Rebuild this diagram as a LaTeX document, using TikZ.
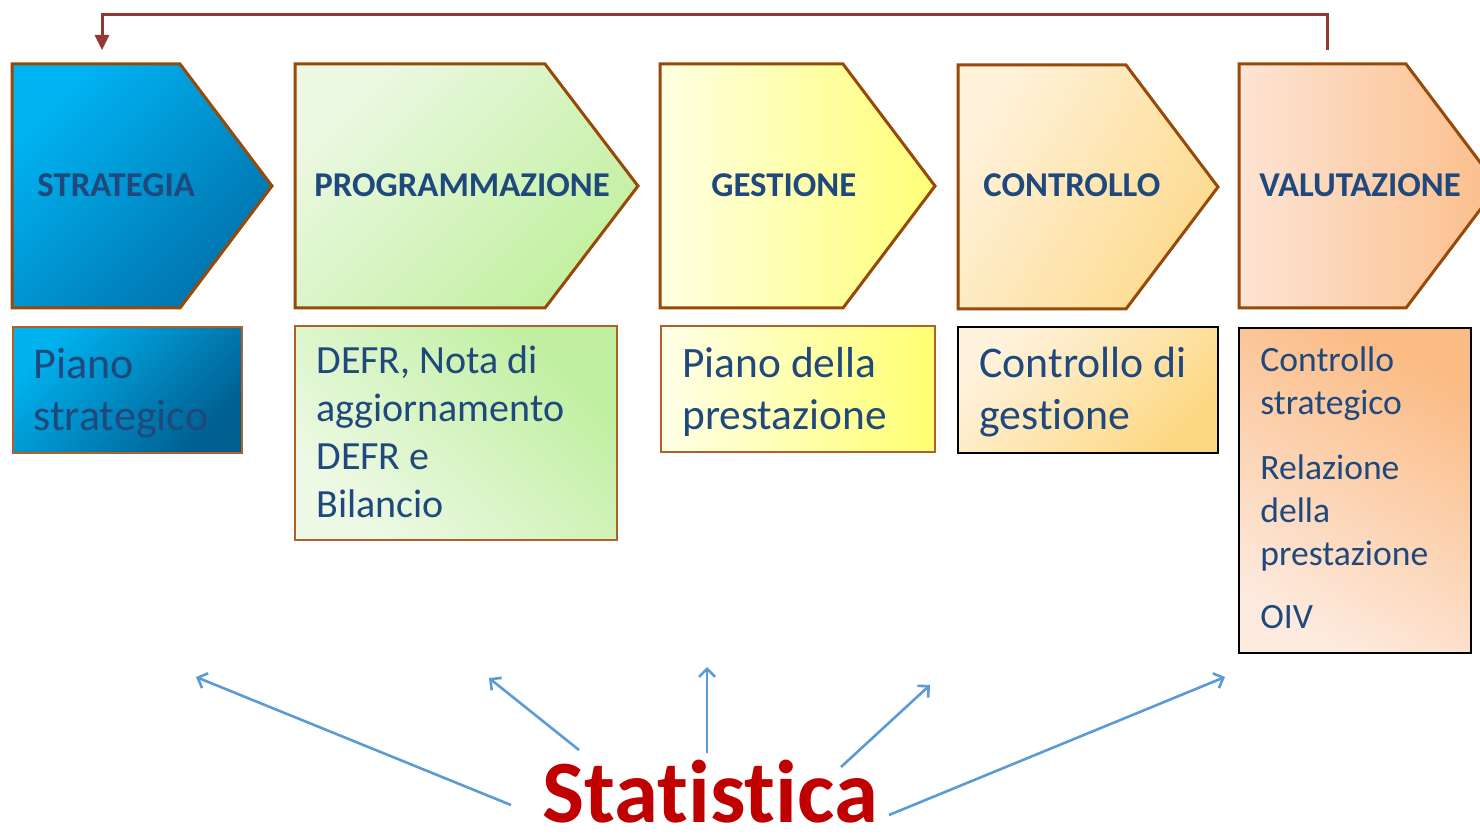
\documentclass[tikz,border=0pt]{standalone}
\usepackage{fontspec}
\setmainfont{Carlito}[Ligatures=NoCommon]
\usetikzlibrary{arrows.meta}
\definecolor{txtblue}{HTML}{1F497D}
\definecolor{chevborder}{HTML}{984807}
\definecolor{boxborder}{HTML}{B0602A}
\definecolor{fbred}{HTML}{953735}
\definecolor{statred}{HTML}{C00000}
\definecolor{arrblue}{HTML}{5B9BD5}
\definecolor{cAa}{HTML}{00B4F2}\definecolor{cAb}{HTML}{0072AC}
\definecolor{cBa}{HTML}{EBF8E2}\definecolor{cBb}{HTML}{C2F0A0}
\definecolor{cCa}{HTML}{FFFFE2}\definecolor{cCb}{HTML}{FFFF78}
\definecolor{cDa}{HTML}{FFF2DA}\definecolor{cDb}{HTML}{FDDA8E}
\definecolor{cEa}{HTML}{FDE4D4}\definecolor{cEb}{HTML}{FBBE8A}
\definecolor{bAa}{HTML}{00B2EE}\definecolor{bAb}{HTML}{005E90}
\definecolor{bBa}{HTML}{BFEF9E}\definecolor{bBb}{HTML}{EEF9E6}
\definecolor{bCa}{HTML}{FFFFE8}\definecolor{bCb}{HTML}{FFFF72}
\definecolor{bDa}{HTML}{FFF3DE}\definecolor{bDb}{HTML}{FDD882}
\definecolor{bEa}{HTML}{FBBB84}\definecolor{bEb}{HTML}{FDEADE}
\begin{document}
\begin{tikzpicture}[x=0.5pt,y=-0.5pt,
  chev/.style={draw=chevborder, line width=1.5pt, line join=miter},
  hdr/.style={anchor=base west, inner sep=0pt, text=txtblue, font=\fontsize{17.4}{20}\selectfont\bfseries},
  bodytxt/.style={anchor=base west, inner sep=0pt, text=txtblue, align=left},
  infobox/.style={line width=1pt},
  upar/.style={draw=arrblue, line width=1.3pt, -{Straight Barb[length=4pt,width=8pt]}},
  fb/.style={draw=fbred, line width=1.5pt, -{Triangle[length=7.5pt,width=7pt]}}
]
\useasboundingbox (0,0) rectangle (1480,834);

% chevrons
\path[chev, top color=cAa, bottom color=cAb, shading angle=45]
  (12,64) -- (180,64) -- (272,186) -- (180,308) -- (12,308) -- cycle;
\path[chev, top color=cBa, bottom color=cBb, shading angle=45]
  (295,64) -- (545,64) -- (638,186) -- (545,308) -- (295,308) -- cycle;
\path[chev, left color=cCa, right color=cCb]
  (660,64) -- (843,64) -- (935,186) -- (843,308) -- (660,308) -- cycle;
\path[chev, top color=cDa, bottom color=cDb, shading angle=60]
  (958,65) -- (1126,65) -- (1218,187) -- (1126,309) -- (958,309) -- cycle;
\path[chev, left color=cEa, right color=cEb]
  (1239,64) -- (1406,64) -- (1498,186) -- (1406,308) -- (1239,308) -- cycle;

\node[hdr] (h1) at (37,197) {STRATEGIA};
\node[hdr] (h2) at (314,197) {PROGRAMMAZIONE};
\node[hdr] (h3) at (711,197) {GESTIONE};
\node[hdr] (h4) at (983,197) {CONTROLLO};
\node[hdr] (h5) at (1259,197) {VALUTAZIONE};

% feedback arrow
\coordinate (fbstart) at (1327,50);
\coordinate (fbend) at (102,50);
\draw[fb] (fbstart) -- ++(0,-35) -| (fbend);

% info boxes
\path[infobox, draw=boxborder, top color=bAa, bottom color=bAb, shading angle=45]
  (13,327) rectangle (242,453);
\path[infobox, draw=boxborder, top color=bBa, bottom color=bBb, shading angle=-45]
  (295,326) rectangle (617,540);
\path[infobox, draw=boxborder, left color=bCa, right color=bCb]
  (661,326) rectangle (935,452);
\path[infobox, draw=black, top color=bDa, bottom color=bDb, shading angle=45]
  (958,327) rectangle (1218,453);
\path[infobox, draw=black, top color=bEa, bottom color=bEb, shading angle=-30]
  (1239,328) rectangle (1471,653);

% (base anchor of a multi-line node = baseline of its last line)
\node[bodytxt, font=\fontsize{22}{26}\selectfont] (t1) at (33,431) {Piano\\strategico};
\node[bodytxt, font=\fontsize{20}{24}\selectfont] (t2) at (316,517) {DEFR, Nota di\\aggiornamento\\DEFR e\\Bilancio};
\node[bodytxt, font=\fontsize{21.7}{26.5}\selectfont] (t3) at (682,430) {Piano della\\prestazione};
\node[bodytxt, font=\fontsize{21.9}{26}\selectfont] (t4) at (979,430) {Controllo di\\gestione};
\node[bodytxt, font=\fontsize{17.8}{21.5}\selectfont] (t5) at (1260,628) {Controllo\\strategico\\[11pt]Relazione\\della\\prestazione\\[10pt]OIV};

% Statistica
\node[anchor=base, inner sep=0pt, text=statred, font=\fontsize{44.5}{50}\selectfont\bfseries] (stat) at (710,822) {Statistica};

\coordinate (s1) at (511,805);
\coordinate (s2) at (579,750);
\coordinate (s3) at (707,753);
\coordinate (s4) at (841,767);
\coordinate (s5) at (889,815);
\coordinate (e1) at (196,677);
\coordinate (e2) at (489,678);
\coordinate (e3) at (707,667);
\coordinate (e4) at (930,685);
\coordinate (e5) at (1225,677);
\draw[upar] (s1) -- (e1);
\draw[upar] (s2) -- (e2);
\draw[upar] (s3) -- (e3);
\draw[upar] (s4) -- (e4);
\draw[upar] (s5) -- (e5);
\end{tikzpicture}
\end{document}
